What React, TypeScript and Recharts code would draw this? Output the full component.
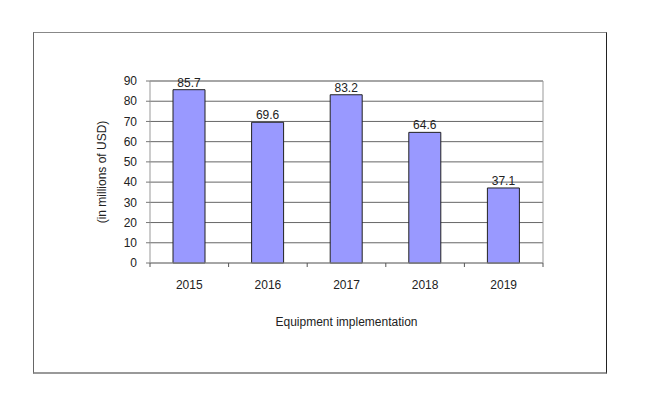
import { BarChart, Bar, XAxis, YAxis, CartesianGrid, LabelList, Label, ReferenceLine } from 'recharts';

const years = ['2015', '2016', '2017', '2018', '2019'];
const amounts = [85.7, 69.6, 83.2, 64.6, 37.1];
const yTicks = [0, 10, 20, 30, 40, 50, 60, 70, 80, 90];

const data = years.map((year, i) => ({ year, value: amounts[i] }));

const FONT = '"Liberation Sans", Arial, sans-serif';
const PLOT_LEFT = 150;
const PLOT_RIGHT = 543;
const BAND = (PLOT_RIGHT - PLOT_LEFT) / years.length;

// category labels centred, tick marks between categories (excel style)
function YearTick(props: any) {
  const { x, y, payload, index } = props;
  const left = x - BAND / 2;
  return (
    <g>
      <line x1={left} y1={y} x2={left} y2={y + 4} stroke="#555" />
      {index === years.length - 1 && (
        <line x1={left + BAND} y1={y} x2={left + BAND} y2={y + 4} stroke="#555" />
      )}
      <text x={x} y={y + 26} textAnchor="middle" fill="#222" fontSize={12} fontFamily={FONT}>
        {payload.value}
      </text>
    </g>
  );
}

export default function App() {
  return (
    <div style={{ position: 'absolute', left: 0, top: 0, width: 648, height: 398, background: '#fff' }}>
      <div
        style={{
          position: 'absolute',
          left: 33,
          top: 32,
          width: 572,
          height: 339,
          borderTop: '1px solid #888',
          borderLeft: '1px solid #666',
          borderRight: '1px solid #222',
          borderBottom: '2px solid #999',
        }}
      />
      <div style={{ position: 'absolute', left: 0, top: 0 }}>
        <BarChart
          width={648}
          height={398}
          data={data}
          margin={{ top: 81, right: 648 - PLOT_RIGHT, bottom: 65, left: 90 }}
          barSize={32}
        >
          <CartesianGrid horizontal vertical={false} stroke="#666" />
          <XAxis
            dataKey="year"
            axisLine={{ stroke: '#999' }}
            tickLine={false}
            tickSize={0}
            tickMargin={0}
            height={70}
            tick={<YearTick />}
            interval={0}
          >
            <Label
              value="Equipment implementation"
              position="center"
              dy={24}
              fill="#222"
              fontSize={12}
              fontFamily={FONT}
            />
          </XAxis>
          <YAxis
            domain={[0, 90]}
            ticks={yTicks}
            interval={0}
            width={60}
            axisLine={{ stroke: '#999' }}
            tickLine={{ stroke: '#777' }}
            tickSize={4}
            tickMargin={9}
            tick={{ fill: '#222', fontSize: 12, fontFamily: FONT }}
          >
            <Label
              value="(in millions of USD)"
              angle={-90}
              position="center"
              dx={-18}
              fill="#222"
              fontSize={12}
              fontFamily={FONT}
            />
          </YAxis>
          <ReferenceLine y={90} stroke="#999" />
          <Bar dataKey="value" fill="#9999FF" stroke="#222" strokeWidth={1} isAnimationActive={false}>
            <LabelList dataKey="value" position="top" offset={3} fill="#222" fontSize={12} fontFamily={FONT} />
          </Bar>
        </BarChart>
        <svg
          width={648}
          height={398}
          style={{ position: 'absolute', left: 0, top: 0, pointerEvents: 'none' }}
        >
          <line x1={PLOT_RIGHT} y1={81} x2={PLOT_RIGHT} y2={263} stroke="#999" />
        </svg>
      </div>
    </div>
  );
}
